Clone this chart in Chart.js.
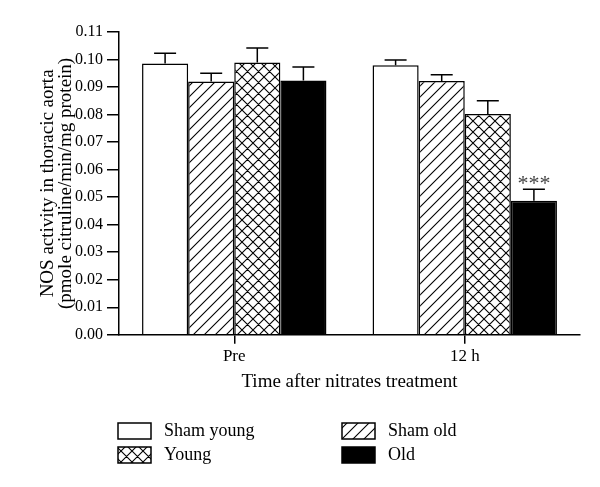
<!DOCTYPE html>
<html>
<head>
<meta charset="utf-8">
<script src="https://cdn.jsdelivr.net/npm/chart.js@4"></script>
<style>
    body { margin: 0; background: #fff; }
    #wrap { width: 600px; height: 487px; }
</style>
</head>
<body>
<div id="wrap"><canvas id="nos-chart"></canvas></div>
<script>
const groups = ["Pre", "12 h"];

const shamYoung = [0.0986, 0.0979];
const shamYoungErr = [0.0037, 0.0019];
const shamOld = [0.0920, 0.0922];
const shamOldErr = [0.0030, 0.0023];
const young = [0.0989, 0.0802];
const youngErr = [0.0053, 0.0048];
const old = [0.0924, 0.0487];
const oldErr = [0.0049, 0.0042];
const oldSig = ["", "***"];

const yTicks = [0, 0.01, 0.02, 0.03, 0.04, 0.05, 0.06, 0.07, 0.08, 0.09, 0.10, 0.11];

const serif = "'Liberation Serif', 'Times New Roman', serif";

function makePattern(kind) {
    let s = 11;
    let c = document.createElement("canvas");
    c.width = s;
    c.height = s;
    let g = c.getContext("2d");
    g.fillStyle = "#fff";
    g.fillRect(0, 0, s, s);
    g.strokeStyle = "#000";
    g.lineWidth = 1.1;
    g.beginPath();
    // "/" lines
    g.moveTo(0, s); g.lineTo(s, 0);
    g.moveTo(-1, 1); g.lineTo(1, -1);
    g.moveTo(s - 1, s + 1); g.lineTo(s + 1, s - 1);
    if (kind === "cross") {
        g.moveTo(0, 0); g.lineTo(s, s);
        g.moveTo(-1, s - 1); g.lineTo(1, s + 1);
        g.moveTo(s - 1, -1); g.lineTo(s + 1, 1);
    }
    g.stroke();
    return g.createPattern(c, "repeat");
}

const diagFill = makePattern("diag");
const crossFill = makePattern("cross");

const datasets = [
    { label: "Sham young", data: shamYoung, err: shamYoungErr, backgroundColor: "#fff" },
    { label: "Sham old", data: shamOld, err: shamOldErr, backgroundColor: diagFill },
    { label: "Young", data: young, err: youngErr, backgroundColor: crossFill },
    { label: "Old", data: old, err: oldErr, sig: oldSig, backgroundColor: "#000" },
];
for (let ds of datasets) {
    ds.borderColor = "#000";
    ds.borderWidth = 1.5;
    ds.categoryPercentage = 0.8;
    ds.barPercentage = 1.0;
}

// error bars (upper half only) and significance stars
const errorBars = {
    id: "errorBars",
    afterDatasetsDraw(chart) {
        const ctx = chart.ctx;
        const y = chart.scales.y;
        ctx.save();
        ctx.strokeStyle = "#000";
        ctx.lineWidth = 1.5;
        chart.data.datasets.forEach((ds, i) => {
            let meta = chart.getDatasetMeta(i);
            meta.data.forEach((bar, j) => {
                let top = y.getPixelForValue(ds.data[j] + ds.err[j]);
                ctx.beginPath();
                ctx.moveTo(bar.x, bar.y);
                ctx.lineTo(bar.x, top);
                ctx.moveTo(bar.x - 11, top);
                ctx.lineTo(bar.x + 11, top);
                ctx.stroke();
                if (ds.sig && ds.sig[j]) {
                    ctx.fillStyle = "#444";
                    ctx.font = "22px " + serif;
                    ctx.textAlign = "center";
                    ctx.textBaseline = "alphabetic";
                    ctx.fillText(ds.sig[j], bar.x, top + 1);
                }
            });
        });
        ctx.restore();
    },
};

// two-column legend under the axis title
const boxLegend = {
    id: "boxLegend",
    afterDraw(chart) {
        const ctx = chart.ctx;
        const order = [0, 1, 2, 3];
        const cols = [118, 342];
        const rows = [423, 447];
        ctx.save();
        ctx.font = "18px " + serif;
        ctx.textBaseline = "middle";
        ctx.textAlign = "left";
        order.forEach((k, n) => {
            let ds = chart.data.datasets[k];
            let x = cols[n % 2];
            let yy = rows[Math.floor(n / 2)];
            ctx.fillStyle = ds.backgroundColor;
            ctx.fillRect(x, yy, 33, 16);
            ctx.strokeStyle = "#000";
            ctx.lineWidth = 1.5;
            ctx.strokeRect(x, yy, 33, 16);
            ctx.fillStyle = "#000";
            ctx.fillText(ds.label, x + 46, yy + 8);
        });
        ctx.restore();
    },
};

Chart.defaults.color = "#000";
Chart.defaults.font.family = serif;

new Chart(document.getElementById("nos-chart"), {
    type: "bar",
    data: {
        labels: groups,
        datasets: datasets,
    },
    options: {
        responsive: true,
        maintainAspectRatio: false,
        animation: false,
        layout: {
            padding: { top: 32, right: 20, bottom: 94, left: 0 },
        },
        plugins: {
            legend: { display: false },
            tooltip: { enabled: false },
        },
        scales: {
            x: {
                offset: true,
                grid: {
                    offset: false,
                    drawOnChartArea: false,
                    tickLength: 9,
                    color: "#000",
                    lineWidth: 1.5,
                },
                border: { color: "#000", width: 1.5 },
                ticks: { padding: 3, font: { size: 17 } },
                title: {
                    display: true,
                    text: "Time after nitrates treatment",
                    font: { size: 19 },
                    padding: 0,
                },
            },
            y: {
                min: 0,
                max: 0.11,
                afterBuildTicks: (scale) => {
                    scale.ticks = yTicks.map((v) => ({ value: v }));
                },
                afterFit: (scale) => {
                    scale.width = 119;
                },
                grid: {
                    drawOnChartArea: false,
                    tickLength: 12,
                    color: "#000",
                    lineWidth: 1.5,
                },
                border: { color: "#000", width: 1.5 },
                ticks: {
                    padding: 4,
                    font: { size: 16 },
                    callback: (v) => Number(v).toFixed(2),
                },
                title: {
                    display: true,
                    text: ["NOS activity in thoracic aorta", "(pmole citruline/min/mg protein)"],
                    font: { size: 19, lineHeight: "18px" },
                    padding: { top: 39, bottom: 0 },
                },
            },
        },
    },
    plugins: [errorBars, boxLegend],
});
</script>
</body>
</html>
